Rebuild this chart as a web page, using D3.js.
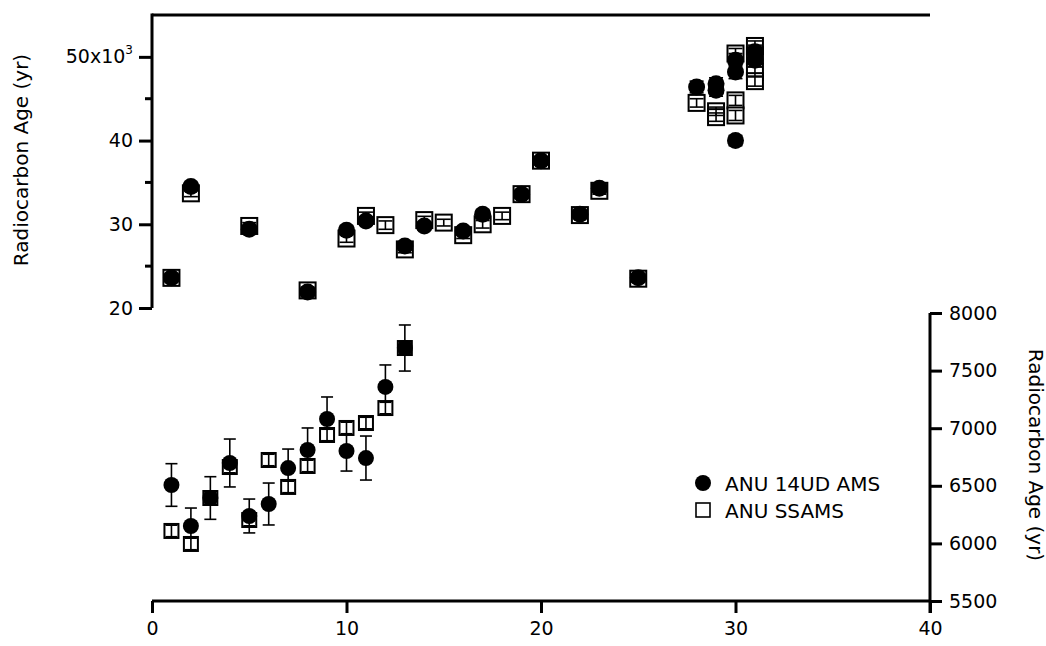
<!DOCTYPE html>
<html>
<head>
<meta charset="utf-8">
<script src="https://cdn.jsdelivr.net/npm/d3@7"></script>
<style>
  html, body { margin: 0; padding: 0; background: #fff; }
  svg { display: block; }
  text { font-family: "DejaVu Sans", sans-serif; fill: #000; }
</style>
</head>
<body>
<svg id="chart" width="1046" height="646"></svg>
<script>
// ---------- DATA ----------
// Upper panel (left axis, years)
const topAmsX   = [1, 2, 5, 8, 10, 11, 13, 14, 16, 17, 19, 20, 22, 23, 25, 28, 29, 29, 30, 30, 30, 31, 31];
const topAmsY   = [23600, 34500, 29400, 21900, 29300, 30400, 27400, 29800, 29200, 31200, 33600, 37600, 31200, 34300, 23600, 46400, 46800, 46000, 49600, 48200, 40000, 50600, 49600];
const topAmsErr = [500, 500, 500, 500, 500, 500, 500, 500, 500, 500, 500, 500, 500, 500, 500, 700, 700, 700, 800, 800, 600, 800, 800];

const topSsX    = [1, 2, 5, 8, 10, 11, 12, 13, 14, 15, 16, 17, 18, 19, 20, 22, 23, 25, 28, 29, 29, 30, 30, 30, 31, 31, 31, 31];
const topSsY    = [23600, 33700, 29800, 22100, 28300, 31000, 29900, 27000, 30500, 30200, 28700, 30000, 31000, 33600, 37600, 31100, 34000, 23500, 44500, 43500, 42800, 50400, 44800, 43000, 51300, 50200, 48200, 47100];
const topSsErr  = [400, 400, 400, 400, 450, 450, 500, 400, 450, 400, 400, 450, 450, 400, 400, 400, 400, 400, 500, 500, 500, 600, 600, 600, 600, 600, 600, 600];

// Lower panel (right axis, years)
const botAmsX   = [1, 2, 3, 4, 5, 6, 7, 8, 9, 10, 11, 12, 13];
const botAmsY   = [6507, 6151, 6394, 6698, 6238, 6342, 6654, 6811, 7080, 6802, 6741, 7358, 7696];
const botAmsErr = [185, 156, 185, 208, 147, 182, 165, 191, 191, 174, 191, 191, 200];

const botSsX    = [1, 2, 3, 4, 5, 6, 7, 8, 9, 10, 11, 12, 13];
const botSsY    = [6108, 5995, 6394, 6663, 6203, 6724, 6490, 6672, 6941, 7002, 7045, 7175, 7696];
const botSsErr  = [50, 50, 50, 50, 50, 50, 50, 50, 50, 50, 50, 50, 50];

const xTicks      = [0, 10, 20, 30, 40];
const leftTicks   = [20000, 30000, 40000, 50000];
const leftMinor   = [25000, 35000, 45000];
const leftLabels  = ["20", "30", "40", "50x10"];
const rightTicks  = [5500, 6000, 6500, 7000, 7500, 8000];
const legendNames = ["ANU 14UD AMS", "ANU SSAMS"];
const yTitle      = "Radiocarbon Age (yr)";

// ---------- SCALES ----------
const x    = d3.scaleLinear().domain([0, 40]).range([152, 930]);
const yTop = d3.scaleLinear().domain([20000, 55000]).range([308, 15]);
const yBot = d3.scaleLinear().domain([5500, 8000]).range([601, 313]);

const svg = d3.select("#chart");
const FS = "19px";

// ---------- AXES ----------
svg.append("line").attr("x1", x(0)).attr("x2", x(40))
  .attr("y1", yTop(55000)).attr("y2", yTop(55000))
  .attr("stroke", "#000").attr("stroke-width", 3);

const xAxis = d3.axisBottom(x).tickValues(xTicks).tickSize(12).tickPadding(9).tickFormat(d3.format("d"));
const gx = svg.append("g").attr("transform", `translate(0,${yBot(5500)})`).call(xAxis);
gx.select(".domain").attr("stroke-width", 3).attr("d", `M${x(0)},0H${x(40)}`);
gx.selectAll(".tick line").attr("stroke-width", 3);
gx.selectAll(".tick text").style("font-size", FS).style("font-family", "DejaVu Sans");

const yAxisL = d3.axisLeft(yTop).tickValues(leftTicks).tickSize(13).tickPadding(6)
  .tickFormat((d, i) => leftLabels[i]);
const gl = svg.append("g").attr("transform", `translate(${x(0)},0)`).call(yAxisL);
gl.select(".domain").attr("stroke-width", 3).attr("d", `M0,${yTop(55000) - 1.5}V${yTop(20000)}`);
gl.selectAll(".tick line").attr("stroke-width", 3);
gl.selectAll(".tick text").style("font-size", FS).style("font-family", "DejaVu Sans");
gl.selectAll(".tick").filter(d => d === 50000).select("text")
  .append("tspan").attr("dy", "-0.75em").style("font-size", "12px").text("3");
gl.selectAll(".minor").data(leftMinor).enter().append("line")
  .attr("x1", -7).attr("x2", 0)
  .attr("y1", d => yTop(d)).attr("y2", d => yTop(d))
  .attr("stroke", "#000").attr("stroke-width", 3);

const yAxisR = d3.axisRight(yBot).tickValues(rightTicks).tickSize(12).tickPadding(7).tickFormat(d3.format("d"));
const gr = svg.append("g").attr("transform", `translate(${x(40)},0)`).call(yAxisR);
gr.select(".domain").attr("stroke-width", 3).attr("d", `M0,${yBot(8000)}V${yBot(5500) + 12}`);
gr.selectAll(".tick line").attr("stroke-width", 3);
gr.selectAll(".tick text").style("font-size", FS).style("font-family", "DejaVu Sans");

svg.append("text").attr("transform", `translate(22,160) rotate(-90)`)
  .attr("text-anchor", "middle").attr("dominant-baseline", "middle")
  .style("font-size", "20px").text(yTitle);
svg.append("text").attr("transform", `translate(1034,455) rotate(90)`)
  .attr("text-anchor", "middle").attr("dominant-baseline", "middle")
  .style("font-size", "20px").text(yTitle);

// ---------- MARKS ----------
function errorBars(g, xs, ys, es, yScale, capW) {
  const data = xs.map((d, i) => ({x: d, y: ys[i], e: es[i]}));
  const eb = g.append("g").attr("stroke", "#000").attr("stroke-width", 1.6);
  eb.selectAll(".v").data(data).enter().append("line")
    .attr("x1", d => x(d.x)).attr("x2", d => x(d.x))
    .attr("y1", d => yScale(d.y - d.e)).attr("y2", d => yScale(d.y + d.e));
  eb.selectAll(".t").data(data).enter().append("line")
    .attr("x1", d => x(d.x) - capW / 2).attr("x2", d => x(d.x) + capW / 2)
    .attr("y1", d => yScale(d.y + d.e)).attr("y2", d => yScale(d.y + d.e));
  eb.selectAll(".b").data(data).enter().append("line")
    .attr("x1", d => x(d.x) - capW / 2).attr("x2", d => x(d.x) + capW / 2)
    .attr("y1", d => yScale(d.y - d.e)).attr("y2", d => yScale(d.y - d.e));
}
function squares(g, xs, ys, yScale, s) {
  const data = xs.map((d, i) => ({x: d, y: ys[i]}));
  g.append("g").selectAll("rect").data(data).enter().append("rect")
    .attr("x", d => x(d.x) - s / 2).attr("y", d => yScale(d.y) - s / 2)
    .attr("width", s).attr("height", s)
    .attr("fill", "#fff").attr("stroke", "#000").attr("stroke-width", 2);
}
function circles(g, xs, ys, yScale, r) {
  const data = xs.map((d, i) => ({x: d, y: ys[i]}));
  g.append("g").selectAll("circle").data(data).enter().append("circle")
    .attr("cx", d => x(d.x)).attr("cy", d => yScale(d.y)).attr("r", r)
    .attr("fill", "#000");
}

const marks = svg.append("g");
squares(marks, topSsX, topSsY, yTop, 16);
errorBars(marks, topSsX, topSsY, topSsErr, yTop, 14);
circles(marks, topAmsX, topAmsY, yTop, 8.5);
errorBars(marks, topAmsX, topAmsY, topAmsErr, yTop, 14);

errorBars(marks, botAmsX, botAmsY, botAmsErr, yBot, 12);
squares(marks, botSsX, botSsY, yBot, 14);
errorBars(marks, botSsX, botSsY, botSsErr, yBot, 12);
circles(marks, botAmsX, botAmsY, yBot, 8);

// ---------- LEGEND ----------
const lg = svg.append("g");
lg.append("circle").attr("cx", 703).attr("cy", 483).attr("r", 8).attr("fill", "#000");
lg.append("rect").attr("x", 696).attr("y", 503).attr("width", 14).attr("height", 14)
  .attr("fill", "#fff").attr("stroke", "#000").attr("stroke-width", 1.6);
lg.append("text").attr("x", 725).attr("y", 491).style("font-size", "20px").text(legendNames[0]);
lg.append("text").attr("x", 725).attr("y", 518).style("font-size", "20px").text(legendNames[1]);
</script>
</body>
</html>
